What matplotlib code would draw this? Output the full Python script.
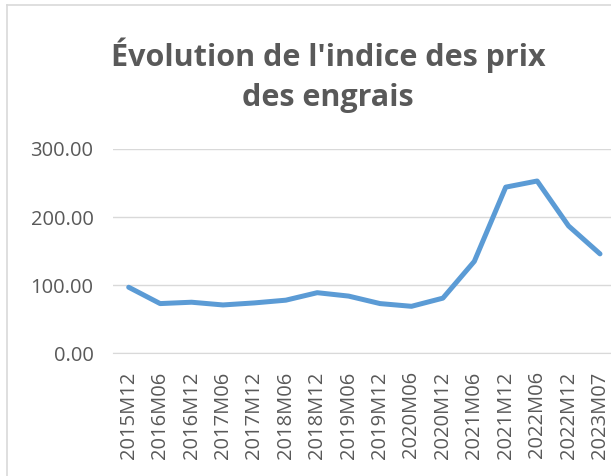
import matplotlib.pyplot as plt
from matplotlib.lines import Line2D

# data
periods = ['2015M12', '2016M06', '2016M12', '2017M06', '2017M12', '2018M06',
           '2018M12', '2019M06', '2019M12', '2020M06', '2020M12', '2021M06',
           '2021M12', '2022M06', '2022M12', '2023M07']
index_values = [97, 73, 75, 71, 74, 78, 89, 84, 73, 69, 81, 135, 244, 253, 187, 146]
y_ticks = [0, 100, 200, 300]

grey = '#595959'
grid_grey = '#D9D9D9'
blue = '#5B9BD5'

plt.rcParams['font.family'] = ['Open Sans', 'DejaVu Sans']

fig = plt.figure(figsize=(6.11, 4.76), dpi=100)
W, H = 611, 476

# axes placed in pixel terms, right edge runs slightly past the picture
x0, x1 = 113, 615.7
y0, y1 = 353.3, 149
ax = fig.add_axes([x0 / W, 1 - y0 / H, (x1 - x0) / W, (y0 - y1) / H])

x = range(len(periods))
ax.plot(x, index_values, color=blue, lw=3.6, solid_capstyle='round', solid_joinstyle='round')

ax.set_xlim(-0.5, len(periods) - 0.5)
ax.set_ylim(0, 300)
ax.set_yticks(y_ticks)
ax.set_yticklabels(['%.2f' % v for v in y_ticks])
ax.set_xticks(list(x))
ax.set_xticklabels(periods, rotation=90)

ax.grid(axis='y', color=grid_grey, lw=1)
ax.set_axisbelow(True)
for s in ['top', 'right', 'left']:
    ax.spines[s].set_visible(False)
ax.spines['bottom'].set_color(grid_grey)
ax.tick_params(axis='both', length=0, colors=grey, labelsize=14.5)
ax.tick_params(axis='y', pad=14)
ax.tick_params(axis='x', pad=13)
ax.set_facecolor('none')

fig.text(328 / W, 1 - 75 / H, "Évolution de l'indice des prix\ndes engrais",
         ha='center', va='center', fontsize=22, fontweight='bold', color=grey,
         linespacing=1.45)

# chart frame (left and top edges visible)
fig.add_artist(Line2D([7.5 / W, 7.5 / W], [0, 1 - 4.5 / H], color=grid_grey, lw=1.2))
fig.add_artist(Line2D([7.5 / W, 1], [1 - 4.5 / H, 1 - 4.5 / H], color=grid_grey, lw=1.2))

fig.savefig('out.png', dpi=100)
